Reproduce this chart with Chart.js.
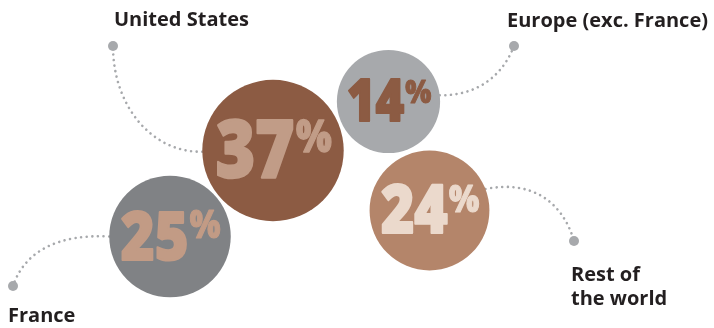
<!DOCTYPE html>
<html>
<head>
<meta charset="utf-8">
<script src="https://cdn.jsdelivr.net/npm/chart.js@4.4.1/dist/chart.umd.min.js"></script>
<style>
  html, body { margin: 0; padding: 0; background: #fff; }
  #wrap { width: 714px; height: 328px; position: relative; }
</style>
</head>
<body>
<div id="wrap"><canvas id="myChart"></canvas></div>
<script>
// revenue share by region (%)
const regions = ["United States", "Europe (exc. France)", "Rest of the world", "France"];
const shares = [37, 14, 24, 25];

// circle fill and number colour per region
const fills = ["#8c5b43", "#a7a9ac", "#b4856a", "#808285"];
const inks = ["#c19c87", "#8c5b43", "#ebd9cc", "#c29b85"];

// where each circle sits on the 714x328 board
const centres = [
  { x: 273, y: 150.5 },
  { x: 388.5, y: 101.5 },
  { x: 429.5, y: 210.5 },
  { x: 170, y: 236.5 },
];

// dotted leader lines: angle on the circle, bezier controls, end dot, label spot
const callouts = [
  { angle: 179, c1: [153, 153], c2: [113, 107], dot: [113, 46], label: [114, 26] },
  { angle: -7, c1: [470, 96], c2: [500, 82], dot: [514, 46], label: [507, 27] },
  { angle: -21, c1: [530, 180], c2: [562, 200], dot: [574, 241], label: [571, 281], breakAfter: 2 },
  { angle: 180, c1: [60, 234], c2: [25, 250], dot: [13, 286], label: [8, 322] },
];

const LEADER = "#a7a9ac";
const LABEL_FONT = "700 20px 'Open Sans', Lato, sans-serif";
const NUM_FONT = "'Open Sans', Lato, sans-serif";

function radiusFor(v) {
  return 40 + 0.83 * v;
}

function labelLines(text, breakAfter) {
  if (!breakAfter) return [text];
  const words = text.split(" ");
  return [words.slice(0, breakAfter).join(" "), words.slice(breakAfter).join(" ")];
}

// heavy glyphs: fill plus a thin stroke of the same colour
function heavyText(ctx, txt, x, y, sx, font, weight) {
  ctx.save();
  ctx.translate(x, y);
  ctx.scale(sx, 1);
  ctx.font = font;
  ctx.lineWidth = weight;
  ctx.lineJoin = "round";
  ctx.fillText(txt, 0, 0);
  ctx.strokeText(txt, 0, 0);
  ctx.restore();
}

const leaders = {
  id: "leaders",
  beforeDatasetsDraw(chart) {
    const ctx = chart.ctx;
    const xs = chart.scales.x, ys = chart.scales.y;
    const px = (p) => [xs.getPixelForValue(p[0]), ys.getPixelForValue(p[1])];
    ctx.save();
    callouts.forEach((c, i) => {
      const r = radiusFor(shares[i]);
      const a = (c.angle * Math.PI) / 180;
      const start = px([centres[i].x + r * Math.cos(a), centres[i].y + r * Math.sin(a)]);
      const c1 = px(c.c1), c2 = px(c.c2), end = px(c.dot);

      ctx.strokeStyle = LEADER;
      ctx.lineWidth = 2.6;
      ctx.lineCap = "round";
      ctx.setLineDash([0.01, 5.6]);
      ctx.beginPath();
      ctx.moveTo(start[0], start[1]);
      ctx.bezierCurveTo(c1[0], c1[1], c2[0], c2[1], end[0], end[1]);
      ctx.stroke();

      ctx.setLineDash([]);
      ctx.fillStyle = LEADER;
      ctx.beginPath();
      ctx.arc(end[0], end[1], 5, 0, Math.PI * 2);
      ctx.fill();

      ctx.fillStyle = "#231f20";
      ctx.font = LABEL_FONT;
      ctx.textBaseline = "alphabetic";
      ctx.textAlign = "left";
      const lp = px(c.label);
      labelLines(regions[i], c.breakAfter).forEach((line, k) => {
        ctx.fillText(line, lp[0], lp[1] + k * 24);
      });
    });
    ctx.restore();
  },
  afterDatasetsDraw(chart) {
    const ctx = chart.ctx;
    const meta = chart.getDatasetMeta(0);
    ctx.save();
    meta.data.forEach((pt, i) => {
      const r = radiusFor(shares[i]);
      const digitH = 0.8 * r;
      const fs = digitH / 0.714;
      const pfs = fs * 0.56;
      const sx = 0.85;
      const txt = String(shares[i]);

      ctx.font = "800 " + fs + "px " + NUM_FONT;
      const dw = ctx.measureText(txt).width * sx;
      ctx.font = "800 " + pfs + "px " + NUM_FONT;
      const pw = ctx.measureText("%").width * sx;
      const left = pt.x - (dw + pw) / 2;
      const base = pt.y + digitH / 2 - 0.02 * r;

      ctx.fillStyle = inks[i];
      ctx.strokeStyle = inks[i];
      ctx.textBaseline = "alphabetic";
      ctx.textAlign = "left";

      heavyText(ctx, txt, left, base, sx, "800 " + fs + "px " + NUM_FONT, 0.035 * r);
      heavyText(ctx, "%", left + dw + 0.02 * r, base - digitH + 0.714 * pfs, sx,
        "800 " + pfs + "px " + NUM_FONT, 0.02 * r);
    });
    ctx.restore();
  },
};

const data = {
  labels: regions,
  datasets: [
    {
      data: shares.map((v, i) => ({ x: centres[i].x, y: centres[i].y, r: radiusFor(v) })),
      backgroundColor: fills,
      borderWidth: 0,
      hoverRadius: 0,
    },
  ],
};

const config = {
  type: "bubble",
  data: data,
  options: {
    responsive: true,
    maintainAspectRatio: false,
    animation: false,
    events: [],
    layout: { padding: 0, autoPadding: false },
    plugins: { legend: { display: false }, tooltip: { enabled: false } },
    scales: {
      x: { type: "linear", min: 0, max: 714, display: false },
      y: { type: "linear", min: 0, max: 328, reverse: true, display: false },
    },
  },
  plugins: [leaders],
};

const myChart = new Chart(document.getElementById("myChart"), config);
</script>
</body>
</html>
